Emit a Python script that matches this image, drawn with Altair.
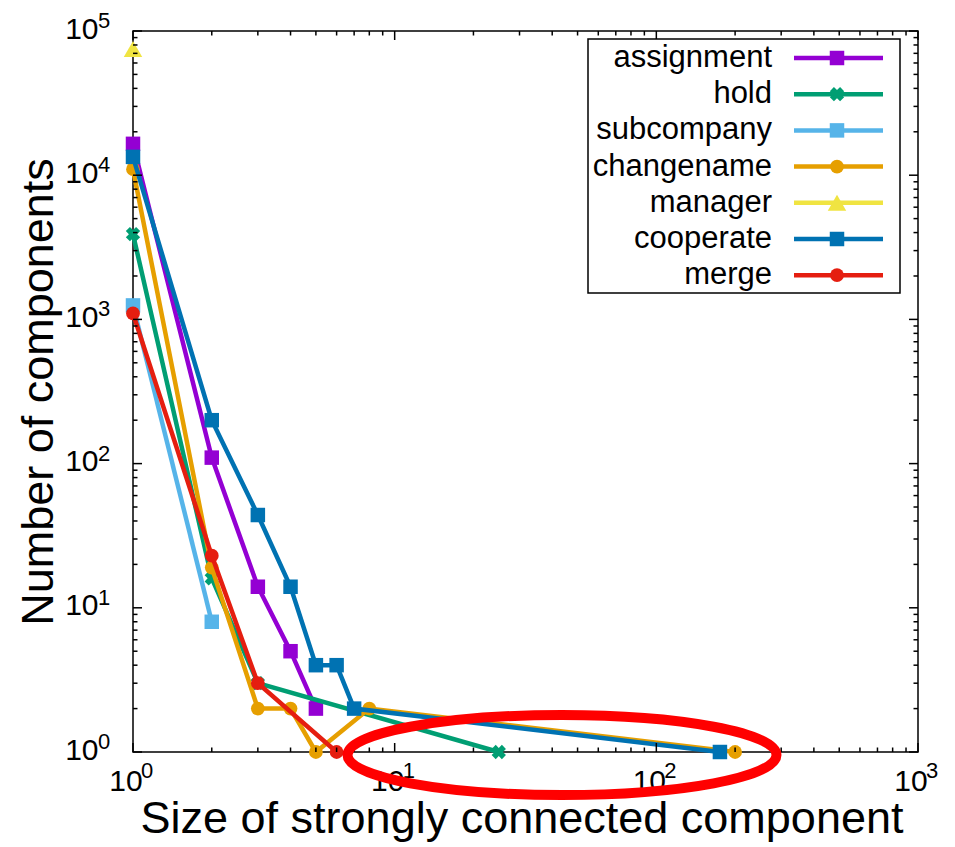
import altair as alt
import pandas as pd

# ---------------- data ----------------
series_names = ["assignment", "hold", "subcompany", "changename", "manager", "cooperate", "merge"]

assignment_x = [1, 2, 3, 4, 5]
assignment_y = [16500, 110, 14, 5, 2]
hold_x = [1, 2, 3, 25]
hold_y = [3900, 16, 3, 1]
subcompany_x = [1, 2]
subcompany_y = [1250, 8]
changename_x = [1, 2, 3, 4, 5, 8, 200]
changename_y = [11000, 19, 2, 2, 1, 2, 1]
manager_x = [1]
manager_y = [75000]
cooperate_x = [1, 2, 3, 4, 5, 6, 7, 175]
cooperate_y = [13400, 200, 44, 14, 4, 4, 2, 1]
merge_x = [1, 2, 3, 6]
merge_y = [1100, 23, 3, 1]

x_major = [1, 10, 100, 1000]
x_exponents = ["0", "1", "2", "3"]
x_minor = [2, 3, 4, 5, 6, 7, 8, 9, 20, 30, 40, 50, 60, 70, 80, 90,
           200, 300, 400, 500, 600, 700, 800, 900]
y_major = [1, 10, 100, 1000, 10000, 100000]
y_exponents = ["0", "1", "2", "3", "4", "5"]
y_minor = [2, 3, 4, 5, 6, 7, 8, 9, 20, 30, 40, 50, 60, 70, 80, 90,
           200, 300, 400, 500, 600, 700, 800, 900,
           2000, 3000, 4000, 5000, 6000, 7000, 8000, 9000,
           20000, 30000, 40000, 50000, 60000, 70000, 80000, 90000]

# annotation: red ellipse centre (data units)
highlight_x = [43.6]
highlight_y = [0.953]

# ---------------- styles ----------------
colors = {
    "assignment": "#9400D3", "hold": "#009E73", "subcompany": "#56B4E9",
    "changename": "#E69F00", "manager": "#F0E442", "cooperate": "#0072B2",
    "merge": "#E51E10",
}
shapes = {
    "assignment": "square", "hold": "cross", "subcompany": "square",
    "changename": "circle", "manager": "triangle-up", "cooperate": "square",
    "merge": "circle",
}
sizes = {"square": 210, "cross": 210, "circle": 190, "triangle-up": 340}

series_data = {
    "assignment": (assignment_x, assignment_y),
    "hold": (hold_x, hold_y),
    "subcompany": (subcompany_x, subcompany_y),
    "changename": (changename_x, changename_y),
    "manager": (manager_x, manager_y),
    "cooperate": (cooperate_x, cooperate_y),
    "merge": (merge_x, merge_y),
}

rows = []
for name in series_names:
    xs, ys = series_data[name]
    for xv, yv in zip(xs, ys):
        rows.append({"series": name, "size": xv, "count": yv})
df = pd.DataFrame(rows)

W, H = 785, 721
FONT = "Liberation Sans"
LBL, EXP, TTL = 30, 22, 45

xscale = alt.Scale(type="log", domain=[1, 1000], nice=False)
yscale = alt.Scale(type="log", domain=[1, 100000], nice=False)

xaxis = alt.Axis(values=x_major, labelExpr="'10'", ticks=False,
                 domain=False, grid=False, labelFont=FONT, labelFontSize=LBL,
                 labelColor="black", labelBaseline="alphabetic", labelPadding=38,
                 labelOffset=-7.5, labelFlush=False, labelOverlap=False,
                 title="Size of strongly connected component", titleFont=FONT,
                 titleFontSize=TTL, titleFontWeight="normal", titleColor="black",
                 titleBaseline="alphabetic", titleY=80, titleX=W / 2 - 4)
yaxis = alt.Axis(values=y_major, labelExpr="'10'", ticks=False,
                 domain=False, grid=False, labelFont=FONT, labelFontSize=LBL,
                 labelColor="black", labelPadding=35, labelBaseline="alphabetic",
                 labelOffset=7, labelFlush=False, labelOverlap=False,
                 title="Number of components", titleFont=FONT, titleFontSize=TTL,
                 titleFontWeight="normal", titleColor="black", titleAngle=-90,
                 titleBaseline="alphabetic", titleX=-81)


def X(field):
    return alt.X(field, scale=xscale, axis=xaxis)


def Y(field):
    return alt.Y(field, scale=yscale, axis=yaxis)


layers = []
for name in series_names:
    sub = alt.Chart(df).transform_filter(alt.datum.series == name)
    line = sub.mark_line(strokeWidth=4.5, color=colors[name]).encode(
        x=X("size:Q"), y=Y("count:Q"), order="size:Q")
    shp = shapes[name]
    pt = sub.mark_point(filled=True, opacity=1, color=colors[name], shape=shp,
                        size=sizes[shp], angle=45 if shp == "cross" else 0).encode(
        x=X("size:Q"), y=Y("count:Q"))
    layers += [line, pt]

# tick marks (inside, on all four sides)
MAJ, MIN = 9, 4.5
for vals, ln in ((x_major, MAJ), (x_minor, MIN)):
    tdf = pd.DataFrame({"v": vals})
    layers.append(alt.Chart(tdf).mark_rule(color="black", strokeWidth=1.5).encode(
        x=X("v:Q"), y=alt.value(H), y2=alt.value(H - ln)))
    layers.append(alt.Chart(tdf).mark_rule(color="black", strokeWidth=1.5).encode(
        x=X("v:Q"), y=alt.value(0), y2=alt.value(ln)))
for vals, ln in ((y_major, MAJ), (y_minor, MIN)):
    tdf = pd.DataFrame({"v": vals})
    layers.append(alt.Chart(tdf).mark_rule(color="black", strokeWidth=1.5).encode(
        y=Y("v:Q"), x=alt.value(0), x2=alt.value(ln)))
    layers.append(alt.Chart(tdf).mark_rule(color="black", strokeWidth=1.5).encode(
        y=Y("v:Q"), x=alt.value(W), x2=alt.value(W - ln)))

# exponents of the tick labels (superscripts)
xe_df = pd.DataFrame({"v": x_major, "e": x_exponents})
layers.append(alt.Chart(xe_df).mark_text(
    align="left", baseline="alphabetic", font=FONT, fontSize=EXP, color="black",
    dx=8).encode(x=X("v:Q"), y=alt.value(H + 26), text="e:N"))
ye_df = pd.DataFrame({"v": y_major, "e": y_exponents})
layers.append(alt.Chart(ye_df).mark_text(
    align="left", baseline="alphabetic", font=FONT, fontSize=EXP, color="black",
    dy=-3).encode(y=Y("v:Q"), x=alt.value(-35), text="e:N"))

# ---------------- custom legend (label left of sample) ----------------
one = pd.DataFrame({"k": [0]})
layers.append(alt.Chart(one).mark_rect(
    fill="white", stroke="black", strokeWidth=1.5).encode(
    x=alt.value(455), x2=alt.value(767), y=alt.value(8), y2=alt.value(262)))
ROW0, ROWSTEP = 27, 36.2
for i, name in enumerate(series_names):
    ypix = ROW0 + i * ROWSTEP
    layers.append(alt.Chart(one).mark_text(
        align="right", baseline="middle", font=FONT, fontSize=31, color="black").encode(
        x=alt.value(639), y=alt.value(ypix), text=alt.value(name)))
    layers.append(alt.Chart(one).mark_rule(strokeWidth=4.5, color=colors[name]).encode(
        x=alt.value(661), x2=alt.value(750), y=alt.value(ypix)))
    shp = shapes[name]
    layers.append(alt.Chart(one).mark_point(
        filled=True, opacity=1, color=colors[name], shape=shp, size=sizes[shp],
        angle=45 if shp == "cross" else 0).encode(x=alt.value(704), y=alt.value(ypix)))

# red ellipse annotation (custom symbol path, unit space)
k = 0.5523
ry = 0.1865
ellipse_path = (
    f"M -1 0 C -1 {-ry*k:.4f} {-k:.4f} {-ry} 0 {-ry} "
    f"C {k:.4f} {-ry} 1 {-ry*k:.4f} 1 0 "
    f"C 1 {ry*k:.4f} {k:.4f} {ry} 0 {ry} "
    f"C {-k:.4f} {ry} -1 {ry*k:.4f} -1 0 Z"
)
hdf = pd.DataFrame({"hx": highlight_x, "hy": highlight_y})
layers.append(alt.Chart(hdf).mark_point(
    shape=ellipse_path, filled=False, stroke="#FF0000", strokeWidth=10,
    size=(2 * 214.5) ** 2, opacity=1).encode(x=X("hx:Q"), y=Y("hy:Q")))

chart = alt.layer(*layers).properties(
    width=W, height=H,
    autosize=alt.AutoSizeParams(type="none"),
    padding={"left": 125, "top": 23, "right": 25, "bottom": 92},
).configure_view(stroke="black", strokeWidth=1.5)

chart.save("out.html", embed_options={"renderer": "svg", "actions": False})
